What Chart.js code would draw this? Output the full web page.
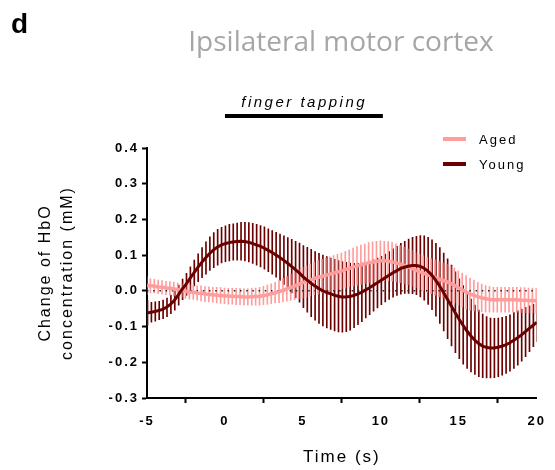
<!DOCTYPE html>
<html>
<head>
<meta charset="utf-8">
<script src="https://cdn.jsdelivr.net/npm/chart.js@4/dist/chart.umd.min.js"></script>
<style>
  html, body { margin: 0; padding: 0; background: #fff; }
  #wrap { width: 555px; height: 470px; }
</style>
</head>
<body>
<div id="wrap"><canvas id="chart" width="555" height="470"></canvas></div>
<script>
// sample times (s), one every 0.25 s
const times = [
  -5, -4.75, -4.5, -4.25, -4, -3.75, -3.5, -3.25, -3, -2.75,
  -2.5, -2.25, -2, -1.75, -1.5, -1.25, -1, -0.75, -0.5, -0.25,
  0, 0.25, 0.5, 0.75, 1, 1.25, 1.5, 1.75, 2, 2.25,
  2.5, 2.75, 3, 3.25, 3.5, 3.75, 4, 4.25, 4.5, 4.75,
  5, 5.25, 5.5, 5.75, 6, 6.25, 6.5, 6.75, 7, 7.25,
  7.5, 7.75, 8, 8.25, 8.5, 8.75, 9, 9.25, 9.5, 9.75,
  10, 10.25, 10.5, 10.75, 11, 11.25, 11.5, 11.75, 12, 12.25,
  12.5, 12.75, 13, 13.25, 13.5, 13.75, 14, 14.25, 14.5, 14.75,
  15, 15.25, 15.5, 15.75, 16, 16.25, 16.5, 16.75, 17, 17.25,
  17.5, 17.75, 18, 18.25, 18.5, 18.75, 19, 19.25, 19.5, 19.75,
  20
];

const agedMean = [
  0.015, 0.014, 0.013, 0.011, 0.010, 0.008, 0.007, 0.005, 0.003, 0.001,
  -0.001, -0.003, -0.004, -0.006, -0.007, -0.009, -0.010, -0.011, -0.012, -0.013,
  -0.014, -0.015, -0.015, -0.016, -0.016, -0.017, -0.017, -0.016, -0.016, -0.015,
  -0.013, -0.011, -0.008, -0.005, -0.002, 0.002, 0.006, 0.010, 0.014, 0.019,
  0.023, 0.027, 0.031, 0.035, 0.038, 0.041, 0.044, 0.047, 0.050, 0.053,
  0.056, 0.060, 0.063, 0.067, 0.070, 0.073, 0.076, 0.079, 0.081, 0.083,
  0.084, 0.084, 0.083, 0.081, 0.078, 0.075, 0.071, 0.067, 0.063, 0.058,
  0.053, 0.049, 0.045, 0.041, 0.037, 0.033, 0.029, 0.025, 0.020, 0.015,
  0.008, 0.002, -0.004, -0.009, -0.013, -0.017, -0.020, -0.022, -0.024, -0.025,
  -0.025, -0.025, -0.025, -0.025, -0.025, -0.025, -0.026, -0.026, -0.027, -0.027,
  -0.028
];
const agedSem = [
  0.025, 0.020, 0.019, 0.019, 0.019, 0.019, 0.019, 0.019, 0.019, 0.019,
  0.020, 0.020, 0.020, 0.020, 0.021, 0.021, 0.021, 0.021, 0.022, 0.022,
  0.022, 0.022, 0.022, 0.023, 0.023, 0.023, 0.023, 0.024, 0.024, 0.025,
  0.026, 0.027, 0.028, 0.029, 0.031, 0.033, 0.035, 0.037, 0.039, 0.041,
  0.043, 0.044, 0.045, 0.046, 0.047, 0.047, 0.048, 0.048, 0.049, 0.049,
  0.050, 0.051, 0.052, 0.053, 0.054, 0.055, 0.055, 0.056, 0.056, 0.056,
  0.056, 0.055, 0.055, 0.054, 0.053, 0.052, 0.051, 0.050, 0.050, 0.049,
  0.049, 0.049, 0.049, 0.049, 0.049, 0.049, 0.049, 0.049, 0.049, 0.049,
  0.048, 0.048, 0.047, 0.045, 0.043, 0.041, 0.039, 0.037, 0.036, 0.035,
  0.035, 0.035, 0.035, 0.035, 0.035, 0.035, 0.035, 0.035, 0.035, 0.035,
  0.035
];

const youngMean = [
  -0.062, -0.060, -0.058, -0.055, -0.052, -0.046, -0.038, -0.027, -0.012, 0.004,
  0.018, 0.034, 0.050, 0.065, 0.079, 0.092, 0.104, 0.114, 0.122, 0.128,
  0.132, 0.135, 0.137, 0.138, 0.139, 0.138, 0.136, 0.133, 0.129, 0.125,
  0.120, 0.114, 0.108, 0.101, 0.094, 0.086, 0.078, 0.069, 0.060, 0.051,
  0.040, 0.031, 0.022, 0.014, 0.007, 0.001, -0.004, -0.008, -0.012, -0.015,
  -0.017, -0.017, -0.016, -0.013, -0.009, -0.004, 0.002, 0.008, 0.015, 0.022,
  0.029, 0.036, 0.043, 0.050, 0.056, 0.062, 0.066, 0.069, 0.071, 0.071,
  0.069, 0.064, 0.056, 0.045, 0.031, 0.015, -0.003, -0.022, -0.041, -0.060,
  -0.078, -0.095, -0.111, -0.125, -0.137, -0.147, -0.154, -0.158, -0.160, -0.160,
  -0.158, -0.155, -0.151, -0.146, -0.139, -0.132, -0.124, -0.115, -0.106, -0.097,
  -0.088
];
const youngSem = [
  0.035, 0.028, 0.027, 0.026, 0.026, 0.026, 0.026, 0.027, 0.028, 0.029,
  0.031, 0.033, 0.036, 0.039, 0.042, 0.045, 0.047, 0.049, 0.050, 0.050,
  0.050, 0.051, 0.051, 0.052, 0.053, 0.054, 0.055, 0.056, 0.057, 0.058,
  0.059, 0.060, 0.061, 0.063, 0.065, 0.068, 0.071, 0.075, 0.079, 0.083,
  0.087, 0.091, 0.094, 0.096, 0.098, 0.099, 0.100, 0.100, 0.100, 0.100,
  0.099, 0.097, 0.094, 0.090, 0.086, 0.082, 0.078, 0.075, 0.072, 0.070,
  0.068, 0.067, 0.067, 0.068, 0.069, 0.071, 0.073, 0.076, 0.079, 0.082,
  0.086, 0.090, 0.094, 0.098, 0.102, 0.106, 0.109, 0.112, 0.113, 0.113,
  0.112, 0.110, 0.106, 0.102, 0.097, 0.093, 0.089, 0.086, 0.084, 0.083,
  0.082, 0.081, 0.080, 0.079, 0.078, 0.076, 0.073, 0.069, 0.064, 0.059,
  0.054
];

const xRange = [-5, 20];
const yRange = [-0.3, 0.4];
const tapping = [0, 10]; // finger tapping block, s

const agedColor = '#ff9d9d';
const youngColor = '#6b0000';
const FONT = '"Liberation Sans", Arial, sans-serif';

Chart.defaults.font.family = FONT;
Chart.defaults.color = '#000';

const toPoints = (mean) => times.map((t, i) => ({ x: t, y: mean[i] }));
const toBars = (mean, sem) => times.map((t, i) => ({ x: t, y: [mean[i] - sem[i], mean[i] + sem[i]] }));

// titles, stimulus bar and legend
const extras = {
    id: 'extras',
    beforeDraw(chart) {
        chart.ctx.letterSpacing = '2px';
    },
    afterDraw(chart) {
        const ctx = chart.ctx;
        const xs = chart.scales.x;
        ctx.save();
        ctx.letterSpacing = '0px';
        ctx.textBaseline = 'alphabetic';
        ctx.fillStyle = '#000';
        ctx.font = 'bold 28px ' + FONT;
        ctx.textAlign = 'left';
        ctx.fillText('d', 11, 33);

        ctx.fillStyle = '#a6a6a6';
        ctx.font = '28px "Open Sans", sans-serif';
        ctx.textAlign = 'center';
        ctx.fillText('Ipsilateral motor cortex', 341, 51);

        const x0 = xs.getPixelForValue(tapping[0]);
        const x1 = xs.getPixelForValue(tapping[1]);
        ctx.fillStyle = '#000';
        ctx.fillRect(x0, 114, x1 - x0 + 2, 4);
        ctx.letterSpacing = '2.5px';
        ctx.font = 'italic 15px ' + FONT;
        ctx.fillText('finger tapping', (x0 + x1) / 2 + 1.25, 107);

        // legend
        ctx.letterSpacing = '2px';
        ctx.font = '13px ' + FONT;
        ctx.textAlign = 'left';
        ctx.textBaseline = 'middle';
        chart.data.datasets.filter(d => d.inLegend).forEach((d, i) => {
            const y = 139 + i * 25;
            ctx.fillStyle = d.borderColor;
            ctx.fillRect(443, y - 2, 23, 4);
            ctx.fillStyle = '#000';
            ctx.fillText(d.label, 479, y + 1);
        });
        ctx.restore();
    }
};

new Chart(document.getElementById('chart'), {
    type: 'line',
    data: {
        datasets: [
            {
                type: 'bar', label: 'Young SEM', data: toBars(youngMean, youngSem),
                backgroundColor: youngColor, borderWidth: 0, barThickness: 1, order: 4
            },
            {
                type: 'bar', label: 'Aged SEM', data: toBars(agedMean, agedSem),
                backgroundColor: agedColor, borderWidth: 0, barThickness: 1, order: 3
            },
            {
                label: 'zero', data: [{ x: xRange[0], y: 0 }, { x: xRange[1], y: 0 }],
                borderColor: '#222', borderWidth: 1.5, borderDash: [1.5, 4.7],
                pointRadius: 0, order: 2
            },
            {
                label: 'Aged', data: toPoints(agedMean), inLegend: true,
                borderColor: agedColor, borderWidth: 3.5, pointRadius: 0, tension: 0, order: 1
            },
            {
                label: 'Young', data: toPoints(youngMean), inLegend: true,
                borderColor: youngColor, borderWidth: 3, pointRadius: 0, tension: 0, order: 0
            }
        ]
    },
    options: {
        responsive: false,
        animation: false,
        devicePixelRatio: 1,
        layout: { padding: { top: 148, right: 17, bottom: 0, left: 0 } },
        plugins: {
            legend: { display: false },
            tooltip: { enabled: false }
        },
        scales: {
            x: {
                type: 'linear', min: xRange[0], max: xRange[1], offset: false,
                grid: { drawOnChartArea: false, drawTicks: true, tickLength: 5, tickWidth: 2, tickColor: '#000' },
                border: { display: true, color: '#000', width: 2 },
                ticks: { stepSize: 5, maxRotation: 0, padding: 11, font: { size: 13, weight: 'bold' } },
                title: {
                    display: true, text: 'Time (s)',
                    font: { size: 17, lineHeight: 1.2 }, padding: { top: 0, bottom: 2 }
                },
                afterFit: (s) => { s.height = 72; }
            },
            y: {
                min: yRange[0], max: yRange[1],
                grid: { drawOnChartArea: false, drawTicks: true, tickLength: 5, tickWidth: 2, tickColor: '#000' },
                border: { display: true, color: '#000', width: 2 },
                ticks: {
                    stepSize: 0.1, padding: 3, font: { size: 13, weight: 'bold' },
                    callback: (v) => (Math.abs(v) < 1e-9 ? 0 : v).toFixed(1)
                },
                title: {
                    display: true, text: ['Change of HbO', 'concentration (mM)'],
                    font: { size: 16, lineHeight: 1.4 }, padding: { top: 34, bottom: 0 }
                },
                afterFit: (s) => { s.width = 147; }
            }
        }
    },
    plugins: [extras]
});
</script>
</body>
</html>
